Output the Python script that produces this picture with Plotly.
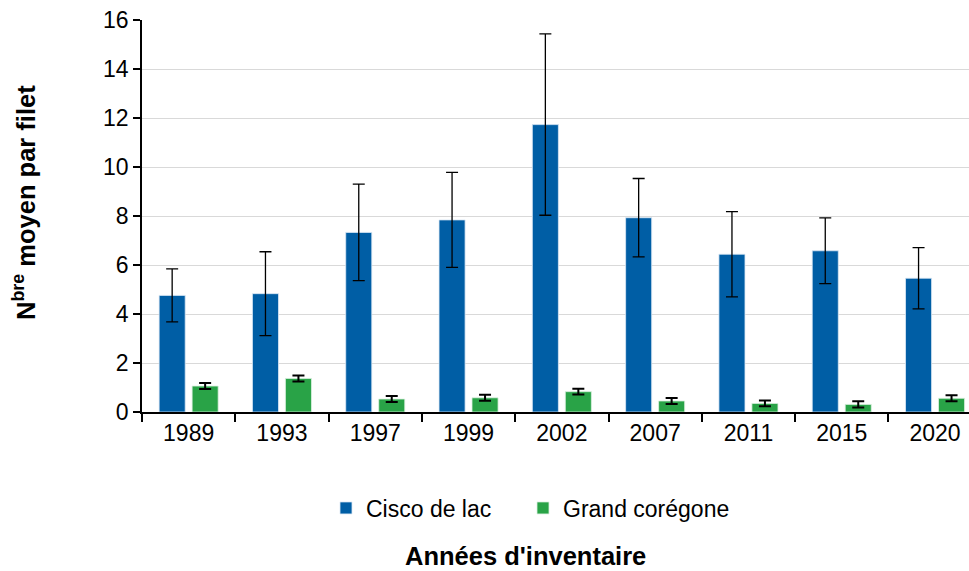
import plotly.graph_objects as go

# Inventory years and mean catch per net (with error margins)
annees = ["1989", "1993", "1997", "1999", "2002", "2007", "2011", "2015", "2020"]
cisco = [4.76, 4.83, 7.33, 7.84, 11.73, 7.93, 6.44, 6.58, 5.46]
cisco_err = [1.08, 1.71, 1.97, 1.94, 3.70, 1.60, 1.74, 1.34, 1.25]
coregone = [1.06, 1.37, 0.53, 0.58, 0.83, 0.45, 0.35, 0.31, 0.56]
coregone_err = [0.12, 0.12, 0.12, 0.12, 0.12, 0.12, 0.12, 0.13, 0.12]

BLUE = "#005EA5"
GREEN = "#29A347"
FONT = "Arial, Liberation Sans, sans-serif"

W, H = 969, 571
L, R, T, B = 142, 0, 20, 159

fig = go.Figure()
fig.add_trace(go.Bar(
    x=annees, y=cisco, name="Cisco de lac", legend="legend",
    marker=dict(color=BLUE, line=dict(color="rgba(220,232,245,0.8)", width=1)),
    error_y=dict(type="data", array=cisco_err, visible=True,
                 color="black", thickness=1.3, width=6),
))
fig.add_trace(go.Bar(
    x=annees, y=coregone, name="Grand corégone", legend="legend2",
    marker=dict(color=GREEN, line=dict(color="rgba(220,240,225,0.8)", width=1)),
    error_y=dict(type="data", array=coregone_err, visible=True,
                 color="black", thickness=2, width=6),
))

# last category is partly cut off at the right edge
cat_px = 93.3
plot_w = W - L - R
x_hi = -0.5 + plot_w / cat_px

legend_common = dict(
    orientation="h", xanchor="left",
    y=(412 - 508) / 392, yanchor="middle",
    font=dict(family=FONT, size=23, color="black"),
    itemclick=False, itemdoubleclick=False,
)

fig.update_layout(
    width=W, height=H,
    margin=dict(l=L, r=R, t=T, b=B, pad=0),
    paper_bgcolor="white", plot_bgcolor="white",
    font=dict(family=FONT, size=23, color="black"),
    barmode="group", bargap=0.293, bargroupgap=0.21,
    showlegend=True,
    legend=dict(x=(326 - L) / plot_w, **legend_common),
    legend2=dict(x=(523 - L) / plot_w, **legend_common),
    xaxis=dict(
        type="category", range=[-0.5, x_hi],
        showline=True, linecolor="black", linewidth=1.5,
        ticks="outside", tickson="boundaries", ticklen=8,
        tickcolor="black", tickwidth=1.5,
        tickfont=dict(family=FONT, size=23, color="black"),
        showgrid=False, zeroline=False,
    ),
    yaxis=dict(
        range=[0, 16], dtick=2, tick0=0,
        showline=True, linecolor="black", linewidth=1.5,
        ticks="outside", ticklen=7, tickcolor="black", tickwidth=1.5,
        tickfont=dict(family=FONT, size=23, color="black"),
        showgrid=True, gridcolor="#D9D9D9", gridwidth=1.2,
        zeroline=False,
    ),
    annotations=[
        dict(text="<b>N<sup>bre</sup> moyen par filet</b>",
             textangle=-90, xref="paper", yref="paper",
             x=(24 - L) / plot_w, y=(412 - 203) / 392,
             xanchor="center", yanchor="middle", showarrow=False,
             font=dict(family=FONT, size=25.5, color="black")),
        dict(text="<b>Années d'inventaire</b>",
             xref="paper", yref="paper",
             x=(525 - L) / plot_w, y=(412 - 556) / 392,
             xanchor="center", yanchor="middle", showarrow=False,
             font=dict(family=FONT, size=25.5, color="black")),
    ],
)

fig.write_html("out.html")
